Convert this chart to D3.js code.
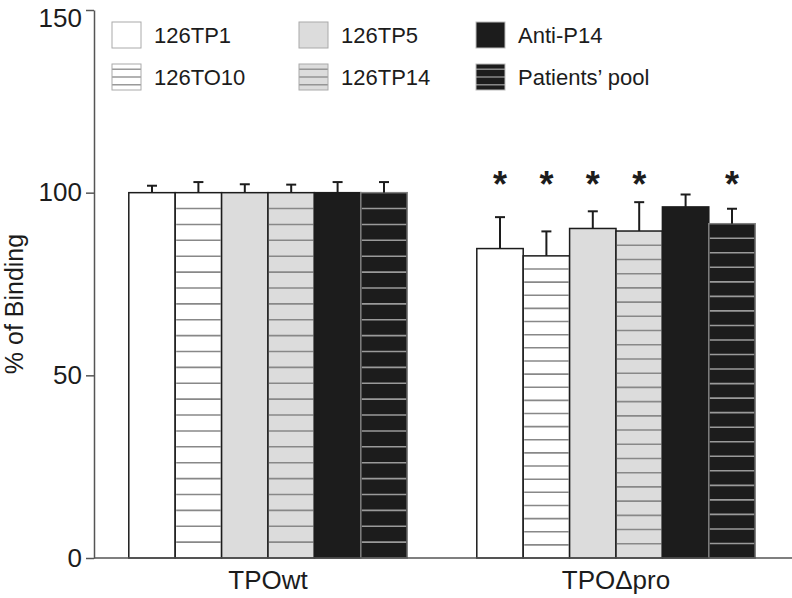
<!DOCTYPE html>
<html>
<head>
<meta charset="utf-8">
<script src="https://cdn.jsdelivr.net/npm/d3@7"></script>
<style>
  html, body { margin: 0; padding: 0; background: #fff; }
  svg { display: block; font-family: "Liberation Sans", Arial, sans-serif; }
</style>
</head>
<body>
<svg id="chart" width="792" height="598"></svg>
<script>
// ---- data ----
const groups = ["TPOwt", "TPO\u0394pro"];
const series = ["126TP1", "126TO10", "126TP5", "126TP14", "Anti-P14", "Patients\u2019 pool"];
const valuesWt = [100, 100, 100, 100, 100, 100];
const errorsWt = [1.9, 2.9, 2.3, 2.2, 2.9, 2.9];
const valuesPro = [84.7, 82.7, 90.2, 89.5, 96.1, 91.5];
const errorsPro = [8.6, 6.7, 4.7, 7.9, 3.4, 4.1];
const significantPro = [true, true, true, true, false, true];
const yTicks = [0, 50, 100, 150];

// ---- styles ----
const fills = ["#ffffff", "#ffffff", "#dcdcdc", "#dcdcdc", "#1c1c1c", "#1c1c1c"];
const striped = [false, true, false, true, false, true];
const stripeColors = ["#888", "#888", "#888", "#888", "#999", "#9a9a9a"];
const barStroke = ["#1c1c1c", "#1c1c1c", "#1c1c1c", "#1c1c1c", "#1c1c1c", "#808080"];
const legendStroke = ["#aaa", "#aaa", "#aaa", "#aaa", "#bbb", "#bbb"];

const table = groups.map((g, gi) => ({
  group: g,
  bars: series.map((s, si) => ({
    series: s, si,
    value: gi === 0 ? valuesWt[si] : valuesPro[si],
    err: gi === 0 ? errorsWt[si] : errorsPro[si],
    sig: gi === 0 ? false : significantPro[si]
  }))
}));

const svg = d3.select("#chart");
const axisX = 94, baseY = 558, topY = 10;

const y = d3.scaleLinear().domain([0, 150]).range([baseY, topY]);
const x0 = d3.scaleBand().domain(groups).range([axisX, 790]).paddingInner(0.2).paddingOuter(0.1);
const x1 = d3.scaleBand().domain(series).range([0, x0.bandwidth()]);

// ---- bars ----
const gGroups = svg.append("g").selectAll("g").data(table).join("g")
  .attr("transform", d => `translate(${x0(d.group)},0)`);

const bar = gGroups.selectAll("g.bar").data(d => d.bars).join("g").attr("class", "bar");

bar.append("rect")
  .attr("x", d => x1(d.series))
  .attr("y", d => y(d.value))
  .attr("width", x1.bandwidth())
  .attr("height", d => y(0) - y(d.value))
  .attr("fill", d => fills[d.si]);

// stripes
const N = 23;
bar.filter(d => striped[d.si]).each(function(d) {
  const top = y(d.value), h = y(0) - y(d.value);
  const xs = x1(d.series);
  d3.select(this).selectAll("line.stripe").data(d3.range(1, N)).join("line")
    .attr("class", "stripe")
    .attr("x1", xs + 1).attr("x2", xs + x1.bandwidth() - 1)
    .attr("y1", i => top + h * i / N).attr("y2", i => top + h * i / N)
    .attr("stroke", stripeColors[d.si]).attr("stroke-width", 1.6);
});

bar.append("rect")
  .attr("x", d => x1(d.series))
  .attr("y", d => y(d.value))
  .attr("width", x1.bandwidth())
  .attr("height", d => y(0) - y(d.value))
  .attr("fill", "none")
  .attr("stroke", d => barStroke[d.si])
  .attr("stroke-width", 1.5);

// error bars
bar.append("line")
  .attr("x1", d => x1(d.series) + x1.bandwidth() / 2)
  .attr("x2", d => x1(d.series) + x1.bandwidth() / 2)
  .attr("y1", d => y(d.value))
  .attr("y2", d => y(d.value + d.err))
  .attr("stroke", "#1c1c1c").attr("stroke-width", 2);
bar.append("line")
  .attr("x1", d => x1(d.series) + x1.bandwidth() / 2 - 5)
  .attr("x2", d => x1(d.series) + x1.bandwidth() / 2 + 5)
  .attr("y1", d => y(d.value + d.err))
  .attr("y2", d => y(d.value + d.err))
  .attr("stroke", "#1c1c1c").attr("stroke-width", 2);

// asterisks
bar.filter(d => d.sig).append("text")
  .attr("x", d => x1(d.series) + x1.bandwidth() / 2)
  .attr("y", 197)
  .attr("text-anchor", "middle")
  .attr("font-size", 36)
  .attr("font-weight", "bold")
  .attr("fill", "#1c1c1c")
  .text("*");

// ---- axes ----
const yAxis = d3.axisLeft(y).tickValues(yTicks).tickSize(8).tickPadding(4).tickSizeOuter(0);
const gy = svg.append("g").attr("transform", `translate(${axisX},0)`).call(yAxis);
gy.select(".domain").attr("stroke", "#555").attr("stroke-width", 1.5);
gy.selectAll(".tick line").attr("stroke", "#555").attr("stroke-width", 1.5);
gy.selectAll(".tick text").attr("font-size", 26).attr("fill", "#1c1c1c")
  .attr("font-family", "Liberation Sans, Arial, sans-serif")
  .attr("dy", d => d === 150 ? "0.62em" : "0.32em");

const xAxis = d3.axisBottom(x0).tickSize(0).tickPadding(13);
const gx = svg.append("g").attr("transform", `translate(0,${baseY})`).call(xAxis);
gx.select(".domain").attr("d", `M${axisX},0H792`).attr("stroke", "#555").attr("stroke-width", 1.5);
gx.selectAll(".tick text").attr("font-size", 26).attr("fill", "#1c1c1c")
  .attr("font-family", "Liberation Sans, Arial, sans-serif");

svg.append("text")
  .attr("transform", `translate(23,${(baseY + topY) / 2 + 20}) rotate(-90)`)
  .attr("text-anchor", "middle")
  .attr("font-size", 25)
  .attr("fill", "#1c1c1c")
  .text("% of Binding");

// ---- legend ----
const legCols = [112, 299, 476];
const legRows = [22, 64];
const legendItems = series.map((s, si) => ({
  s, si,
  x: legCols[Math.floor(si / 2)],
  y: legRows[si % 2]
}));
const leg = svg.append("g").selectAll("g").data(legendItems).join("g")
  .attr("transform", d => `translate(${d.x},${d.y})`);
leg.append("rect").attr("width", 29).attr("height", 26)
  .attr("fill", d => fills[d.si]);
leg.filter(d => striped[d.si]).selectAll("line").data([0.2, 0.5, 0.8]).join("line")
  .attr("x1", 0).attr("x2", 29)
  .attr("y1", f => 26 * f).attr("y2", f => 26 * f)
  .attr("stroke", function() { return stripeColors[d3.select(this.parentNode).datum().si]; })
  .attr("stroke-width", 1.3);
leg.append("rect").attr("width", 29).attr("height", 26)
  .attr("fill", "none").attr("stroke", d => legendStroke[d.si]).attr("stroke-width", 1);
leg.append("text")
  .attr("x", 42).attr("y", 21)
  .attr("font-size", 22)
  .attr("fill", "#1c1c1c")
  .text(d => d.s);
</script>
</body>
</html>
